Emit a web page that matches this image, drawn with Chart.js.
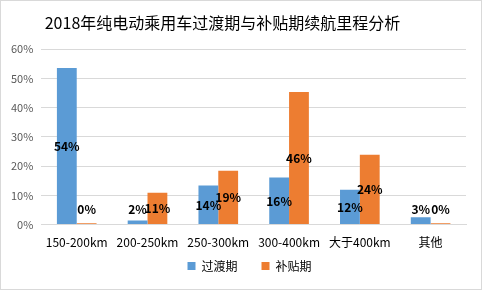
<!DOCTYPE html>
<html>
<head>
<meta charset="utf-8">
<script src="https://cdn.jsdelivr.net/npm/chart.js@4/dist/chart.umd.min.js"></script>
<style>
  body{margin:0;background:#fff;}
  #box{width:480px;height:288px;border:1px solid #d9d9d9;position:relative;}
</style>
</head>
<body>
<div id="box"><canvas id="c" width="480" height="288"></canvas></div>
<script>
const categories = ['150-200km','200-250km','250-300km','300-400km','大于400km','其他'];
const transition = [53.6, 1.4, 13.4, 16.1, 11.9, 2.5];
const subsidy = [0.5, 10.9, 18.4, 45.4, 23.9, 0.5];
const transitionLabels = ['54%','2%','14%','16%','12%','3%'];
const subsidyLabels = ['0%','11%','19%','46%','24%','0%'];
const yTicks = [0,10,20,30,40,50,60];

const font = '"Noto Sans CJK SC", "Microsoft YaHei", sans-serif';
const legendTrim = 16;

// labels: centred in the bar, but never lower than ~5% on the axis
const barLabels = {
  id:'barLabels',
  afterDatasetsDraw(chart){
    const c = chart.ctx, y = chart.scales.y;
    const texts = [transitionLabels, subsidyLabels];
    c.save();
    c.font = 'bold 12px ' + font;
    c.fillStyle = '#000';
    c.textAlign = 'center';
    c.textBaseline = 'middle';
    chart.data.datasets.forEach((ds,i)=>{
      chart.getDatasetMeta(i).data.forEach((bar,j)=>{
        const v = Math.max(ds.data[j]/2, 5.2);
        c.fillText(texts[i][j], bar.x, y.getPixelForValue(v));
      });
    });
    c.restore();
  }
};

// tighter legend box, title and legend nudged like the original
const tweaks = {
  id:'tweaks',
  beforeInit(chart){
    const fit = chart.legend.fit;
    chart.legend.fit = function(){ fit.call(this); this.height -= legendTrim; };
  },
  afterLayout(chart){
    const lg = chart.legend;
    lg.top -= legendTrim + 1;
    lg.left += 15; lg.right += 15;
    if (chart.titleBlock) chart.titleBlock.right -= 24;
  }
};

new Chart(document.getElementById('c'), {
  type:'bar',
  data:{
    labels:categories,
    datasets:[
      {label:'过渡期', data:transition, backgroundColor:'#5b9bd5'},
      {label:'补贴期', data:subsidy, backgroundColor:'#ed7d31'}
    ]
  },
  options:{
    responsive:false,
    animation:false,
    categoryPercentage:0.56,
    barPercentage:1,
    layout:{padding:{left:2,right:15,top:4,bottom:6}},
    plugins:{
      title:{display:true, text:'2018年纯电动乘用车过渡期与补贴期续航里程分析',
        color:'#000', font:{family:font, size:16, weight:'normal'}, padding:{top:8,bottom:17}},
      legend:{position:'bottom',
        labels:{boxWidth:8, boxHeight:8, color:'#000', padding:24, font:{family:font, size:12}}},
      tooltip:{enabled:false}
    },
    scales:{
      x:{grid:{display:false}, border:{color:'#d9d9d9'},
        ticks:{color:'#000', font:{family:font, size:12}, padding:3}},
      y:{min:0, max:60, afterBuildTicks:ax=>{ax.ticks = yTicks.map(v=>({value:v}));},
        grid:{color:'#d9d9d9', drawTicks:false}, border:{display:false},
        ticks:{color:'#595959', padding:8, font:{family:font, size:11}, callback:v=>v+'%'}}
    }
  },
  plugins:[barLabels, tweaks]
});
</script>
</body>
</html>
